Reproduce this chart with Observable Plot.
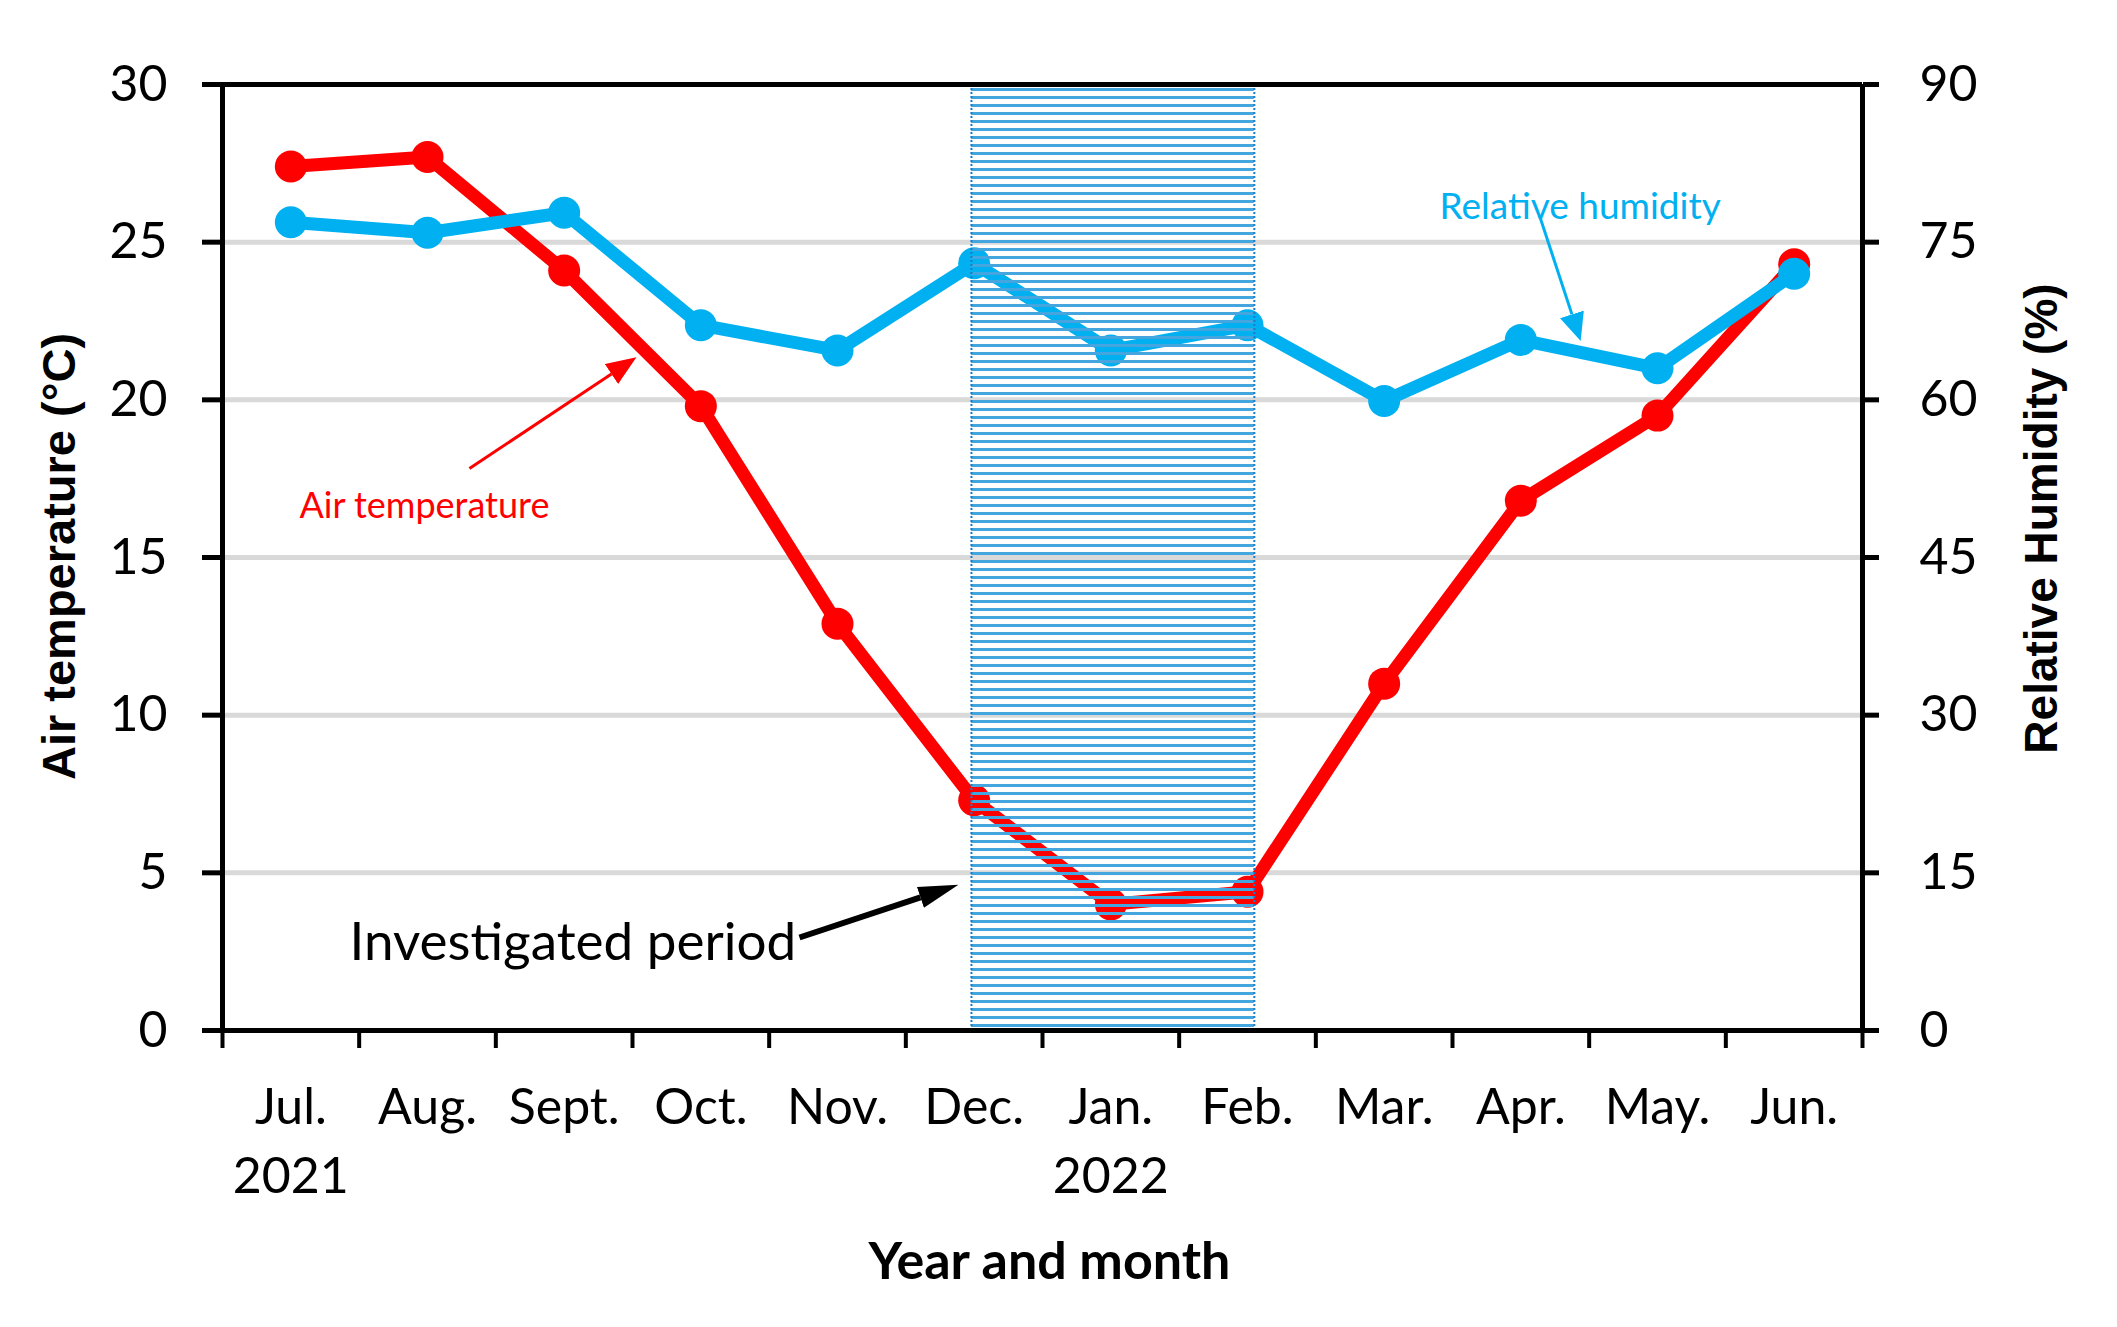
<!DOCTYPE html>
<html>
<head>
<meta charset="utf-8">
<script src="https://cdn.jsdelivr.net/npm/d3@7"></script>
<script src="https://cdn.jsdelivr.net/npm/@observablehq/plot@0.6"></script>
<style>
  html, body { margin: 0; padding: 0; background: #fff; }
</style>
</head>
<body>
<div id="chart"></div>
<script>
// ---------- data ----------
const months = ["Jul.", "Aug.", "Sept.", "Oct.", "Nov.", "Dec.", "Jan.", "Feb.", "Mar.", "Apr.", "May.", "Jun."];
const yearLabels = ["2021", "2022"];
const yearMonths = ["Jul.", "Jan."];
const airTemp = [27.4, 27.7, 24.1, 19.8, 12.9, 7.3, 4.0, 4.4, 11.0, 16.8, 19.5, 24.3];   // °C
const humidity = [76.9, 75.9, 77.8, 67.1, 64.7, 73.0, 64.7, 67.1, 59.9, 65.7, 63.0, 72.0]; // %
const tempTicks = [0, 5, 10, 15, 20, 25, 30];
const humidityTicks = [0, 15, 30, 45, 60, 75, 90];
const gridValues = [5, 10, 15, 20, 25];
const investigated = [{start: "Dec.", end: "Feb."}];

// ---------- helpers ----------
const idx = m => months.indexOf(m);
const humToTemp = h => h * 30 / 90;
const boundaries = d3.range(months.length + 1).map(i => i - 0.5);
const tickFont = "Lato, 'Open Sans', sans-serif";
const titleFont = "'Liberation Sans', Arial, sans-serif";

const plot = Plot.plot({
  width: 2117,
  height: 1327,
  marginLeft: 222,
  marginRight: 255,
  marginTop: 84,
  marginBottom: 297,
  x: {domain: [-0.5, 11.5], axis: null},
  y: {domain: [0, 30], axis: null},
  style: {fontFamily: tickFont, color: "#000", background: "#fff", overflow: "visible"},
  marks: [
    // gridlines
    Plot.ruleY(gridValues, {stroke: "#d9d9d9", strokeWidth: 5}),
    // air temperature
    Plot.line(airTemp, {x: (d, i) => i, y: d => d, stroke: "#ff0000", strokeWidth: 13, strokeLinejoin: "round"}),
    Plot.dot(airTemp, {x: (d, i) => i, y: d => d, r: 16, fill: "#ff0000"}),
    // relative humidity (mapped onto the left scale)
    Plot.line(humidity, {x: (d, i) => i, y: d => humToTemp(d), stroke: "#00b0f0", strokeWidth: 13, strokeLinejoin: "round"}),
    Plot.dot(humidity, {x: (d, i) => i, y: d => humToTemp(d), r: 16, fill: "#00b0f0"}),
    // investigated period shading
    Plot.rect(investigated, {x1: d => idx(d.start) - 0.02, x2: d => idx(d.end) + 0.05, y1: 0, y2: 29.9, fill: "url(#hatch)"}),
    Plot.ruleX(investigated.flatMap(d => [idx(d.start) - 0.02, idx(d.end) + 0.05]), {y1: 0, y2: 29.9, stroke: "#1a7cc4", strokeWidth: 2, strokeDasharray: "2,2"}),
    // frame
    Plot.ruleX([-0.5, 11.5], {strokeWidth: 5, stroke: "#000"}),
    Plot.ruleY([0, 30], {strokeWidth: 5, stroke: "#000"}),
    // axes
    Plot.axisY({ticks: tempTicks, anchor: "left", tickSize: 20, tickPadding: 35, strokeWidth: 5, fontSize: 50, label: null}),
    Plot.axisY({ticks: humidityTicks.map(humToTemp), anchor: "right", tickSize: 16, tickPadding: 41, strokeWidth: 5, fontSize: 50, label: null, tickFormat: d => Math.round(d * 3)}),
    Plot.axisX({ticks: boundaries, anchor: "bottom", tickSize: 18, strokeWidth: 4, tickFormat: () => "", label: null}),
    Plot.text(months, {x: (d, i) => i, y: () => 0, dy: 93, lineAnchor: "bottom", textAnchor: "middle", fontSize: 50}),
    Plot.text(yearLabels, {x: (d, i) => idx(yearMonths[i]), y: () => 0, dy: 162, lineAnchor: "bottom", textAnchor: "middle", fontSize: 50}),
    // axis titles
    Plot.text(["Year and month"], {frameAnchor: "bottom", dx: 7, dy: 248, textAnchor: "middle", lineAnchor: "bottom", fontSize: 52, fontWeight: "bold"}),
    Plot.text(["Air temperature (°C)"], {frameAnchor: "left", dx: -163, dy: -1, rotate: -90, textAnchor: "middle", lineAnchor: "middle", fontSize: 47, fontWeight: "bold", fontFamily: titleFont}),
    Plot.text(["Relative Humidity (%)"], {frameAnchor: "right", dx: 180, dy: -39, rotate: -90, textAnchor: "middle", lineAnchor: "middle", fontSize: 46, fontWeight: "bold", fontFamily: titleFont}),
    // annotations (arrow shafts; heads added as SVG markers below)
    Plot.text(["Air temperature"], {x: 0.063, y: 16.24, textAnchor: "start", lineAnchor: "bottom", fontSize: 36, fill: "#ff0000"}),
    Plot.link([0], {x1: 1.307, y1: 17.82, x2: 2.346, y2: 20.82, stroke: "#ff0000", strokeWidth: 3}),
    Plot.text(["Relative humidity"], {x: 8.405, y: 25.75, textAnchor: "start", lineAnchor: "bottom", fontSize: 37, fill: "#00b0f0"}),
    Plot.link([0], {x1: 9.136, y1: 25.85, x2: 9.374, y2: 22.71, stroke: "#00b0f0", strokeWidth: 3}),
    Plot.text(["Investigated period"], {x: 0.429, y: 2.22, textAnchor: "start", lineAnchor: "bottom", fontSize: 53, fill: "#000"}),
    Plot.link([0], {x1: 3.722, y1: 2.95, x2: 4.607, y2: 4.22, stroke: "#000", strokeWidth: 6})
  ]
});

// ---------- SVG defs: hatch pattern and arrowheads ----------
const svg = d3.select(plot);
const defs = svg.insert("defs", ":first-child");
const pat = defs.append("pattern")
  .attr("id", "hatch").attr("patternUnits", "userSpaceOnUse")
  .attr("width", 8).attr("height", 8);
pat.append("rect").attr("width", 8).attr("height", 3).attr("fill", "#45a5de");

const heads = [
  {id: "red", color: "#ff0000", L: 30, W: 24},
  {id: "blue", color: "#00b0f0", L: 28, W: 25},
  {id: "black", color: "#000", L: 40, W: 22}
];
const linkGroups = svg.selectAll('g[aria-label="link"]').nodes();
heads.forEach((h, i) => {
  defs.append("marker")
    .attr("id", "head-" + h.id)
    .attr("markerUnits", "userSpaceOnUse")
    .attr("markerWidth", h.L).attr("markerHeight", h.W)
    .attr("viewBox", `0 0 ${h.L} ${h.W}`)
    .attr("refX", 0).attr("refY", h.W / 2)
    .attr("orient", "auto")
    .append("path")
    .attr("d", `M0,0L${h.L},${h.W / 2}L0,${h.W}Z`)
    .attr("fill", h.color);
  if (linkGroups[i]) d3.select(linkGroups[i]).selectAll("path").attr("marker-end", `url(#head-${h.id})`);
});

document.getElementById("chart").appendChild(plot);
</script>
</body>
</html>
